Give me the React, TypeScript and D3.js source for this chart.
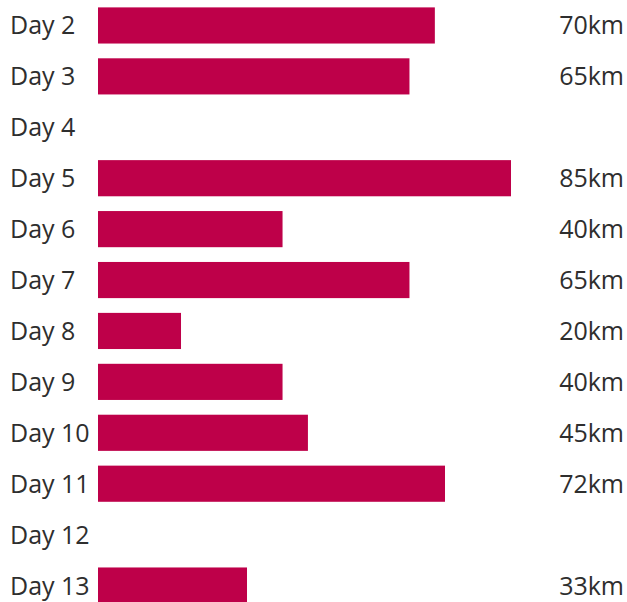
import React from "react";
import * as d3 from "d3";

const days = ["Day 2", "Day 3", "Day 4", "Day 5", "Day 6", "Day 7", "Day 8", "Day 9", "Day 10", "Day 11", "Day 12", "Day 13"];
const distances: (number | null)[] = [70, 65, null, 85, 40, 65, 20, 40, 45, 72, null, 33];
const unit = "km";

const W = 627;
const H = 602;

export default function App() {
  const y = d3.scaleBand<string>().domain(days).range([0, 611]).paddingInner(0.29).paddingOuter(0.145);
  const x = d3.scaleLinear().domain([3.65, 85]).range([98, 511]);
  const font = "'Open Sans', 'Noto Sans', sans-serif";
  return (
    <svg width={W} height={H} style={{ position: "absolute", left: 0, top: 0, background: "#fff" }}>
      {days.map((d, i) => {
        const v = distances[i];
        const cy = (y(d) ?? 0) + y.bandwidth() / 2;
        return (
          <g key={d}>
            <text x={10} y={cy} dy="0.36em" fontFamily={font} fontSize={25} fill="#2e2e2e">{d}</text>
            {v != null && (
              <>
                <rect x={x.range()[0]} y={y(d)} width={x(v) - x.range()[0]} height={y.bandwidth()} fill="#BE0049" />
                <text x={624} y={cy} dy="0.36em" textAnchor="end" fontFamily={font} fontSize={25} fill="#2e2e2e">{v}{unit}</text>
              </>
            )}
          </g>
        );
      })}
    </svg>
  );
}
